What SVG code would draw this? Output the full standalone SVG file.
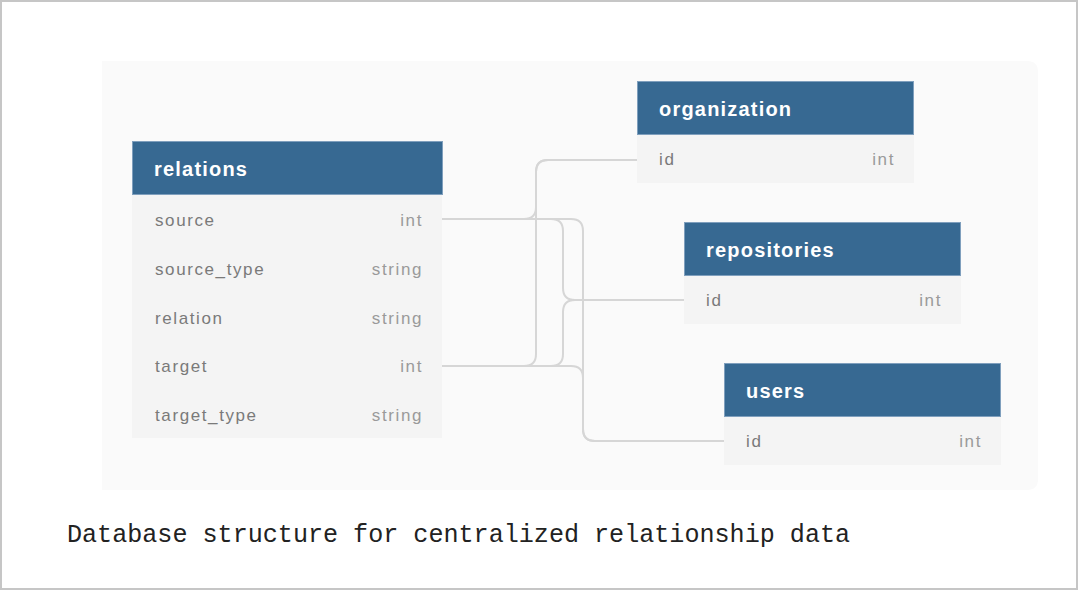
<svg xmlns="http://www.w3.org/2000/svg" width="1078" height="590" viewBox="0 0 1078 590">
<style>
.hd{fill:#376992;stroke:#7f9fbd;stroke-width:1}
.bd{fill:#f4f4f4}
.ht{font-family:"Liberation Sans",Arial,sans-serif;font-weight:bold;font-size:20px;letter-spacing:1.2px;fill:#ffffff}
.rt{font-family:"Liberation Sans",Arial,sans-serif;font-size:17px;letter-spacing:1.6px;fill:#7a7a7a}
.ty{font-family:"Liberation Sans",Arial,sans-serif;font-size:17px;letter-spacing:1.6px;fill:#9a9a9a;text-anchor:end}
.cn{fill:none;stroke:#d6d6d6;stroke-width:2}
</style>
<rect x="0" y="0" width="1078" height="590" fill="#ffffff"/>
<rect x="1" y="1" width="1076" height="588" fill="none" stroke="#c6c6c6" stroke-width="2"/>
<path d="M102,61 H1027 Q1038,61 1038,72 V479 Q1038,490 1027,490 H102 Z" fill="#fafafa"/>
<g id="connectors">
<path class="cn" d="M442,219 H524 Q536,219 536,207 V172 Q536,160 548,160 H637"/>
<path class="cn" d="M442,366 H524 Q536,366 536,354 V172 Q536,160 548,160 H637"/>
<path class="cn" d="M442,219 H551 Q563,219 563,231 V288 Q563,300 575,300 H684"/>
<path class="cn" d="M442,366 H551 Q563,366 563,354 V312 Q563,300 575,300 H684"/>
<path class="cn" d="M442,219 H571 Q583,219 583,231 V429 Q583,441 595,441 H724"/>
<path class="cn" d="M442,366 H571 Q583,366 583,378 V429 Q583,441 595,441 H724"/>
</g>
<g id="relations">
<rect class="bd" x="132" y="195" width="310" height="243"/>
<rect class="hd" x="132.5" y="141.5" width="310" height="53"/>
<text class="ht" x="154" y="176">relations</text>
<text class="rt" x="155" y="226">source</text><text class="ty" x="423" y="226">int</text>
<text class="rt" x="155" y="275">source_type</text><text class="ty" x="423" y="275">string</text>
<text class="rt" x="155" y="324">relation</text><text class="ty" x="423" y="324">string</text>
<text class="rt" x="155" y="372">target</text><text class="ty" x="423" y="372">int</text>
<text class="rt" x="155" y="421">target_type</text><text class="ty" x="423" y="421">string</text>
</g>
<g id="organization">
<rect class="bd" x="637" y="134" width="277" height="49"/>
<rect class="hd" x="637.5" y="81.5" width="276" height="53"/>
<text class="ht" x="659" y="116">organization</text>
<text class="rt" x="659" y="165">id</text><text class="ty" x="895" y="165">int</text>
</g>
<g id="repositories">
<rect class="bd" x="684" y="275" width="277" height="49"/>
<rect class="hd" x="684.5" y="222.5" width="276" height="53"/>
<text class="ht" x="706" y="257">repositories</text>
<text class="rt" x="706" y="306">id</text><text class="ty" x="942" y="306">int</text>
</g>
<g id="users">
<rect class="bd" x="724" y="416" width="277" height="49"/>
<rect class="hd" x="724.5" y="363.5" width="276" height="53"/>
<text class="ht" x="746" y="398">users</text>
<text class="rt" x="746" y="447">id</text><text class="ty" x="982" y="447">int</text>
</g>
<text x="67" y="542" font-family="'Liberation Mono','DejaVu Sans Mono',monospace" font-size="25.1" fill="#222222">Database structure for centralized relationship data</text>
</svg>
